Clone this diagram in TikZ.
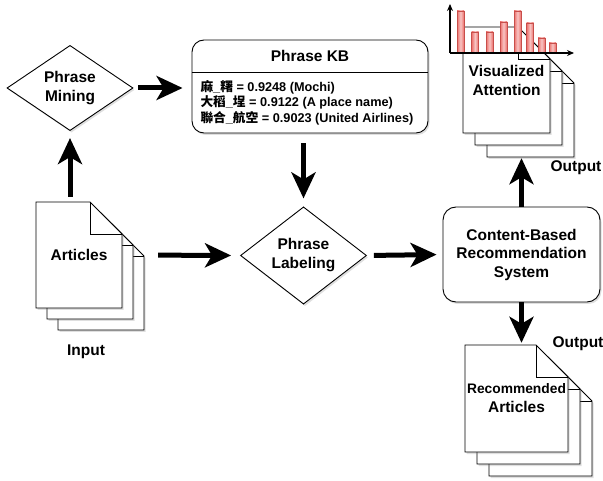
\documentclass[tikz,border=0pt]{standalone}
\usepackage{fontspec}
\setmainfont{Liberation Sans}
\newfontfamily\cjk{Noto Sans CJK TC}
\usetikzlibrary{arrows.meta, shapes.geometric, shadows}

\definecolor{barfill}{RGB}{236,110,106}
\definecolor{barline}{RGB}{200,78,74}

\tikzset{
	softshadow/.style={drop shadow={opacity=0.25, shadow xshift=1.5pt, shadow yshift=-2pt}},
	decision/.style={diamond, draw, fill=white, softshadow, line width=0.9pt, minimum width=126pt, minimum height=76pt, inner sep=0pt, align=center, font=\bfseries\fontsize{15.5}{19}\selectfont},
	roundbox/.style={rectangle, rounded corners=13pt, draw, fill=white, softshadow, line width=0.9pt, align=center, font=\bfseries\fontsize{15.5}{18.5}\selectfont},
	page/.style={draw, fill=white, softshadow, line width=0.9pt},
	doclabel/.style={align=center, inner sep=0pt, font=\bfseries\fontsize{15.5}{19}\selectfont},
	tag/.style={font=\bfseries\fontsize{15.5}{19}\selectfont},
	flow/.style={line width=5pt, -{Stealth[length=26pt, width=24pt, inset=7pt]}},
	axis/.style={line width=1.3pt, -{Stealth[length=7pt, width=6pt]}},
	bar/.style={draw=barline, line width=0.8pt, left color=barfill, right color=barfill, middle color=barfill!40}
}

% stack of three pages: name, x, y, width, height, offset, label
\newcommand{\docstack}[7]{%
	\foreach \off in {2,1,0} {
		\draw [page] (#2+\off*#6, #3+\off*#6) -- ++(#4-32, 0) -- ++(32, 32) -- ++(0, #5-32) -- ++(-#4, 0) -- cycle;
		\draw [line width=0.9pt] (#2+\off*#6+#4-32, #3+\off*#6) -- ++(0, 32) -- ++(32, 0);
	}
	\node (#1) [doclabel, minimum width=#4pt, minimum height=#5pt] at (#2+#4/2, #3+#5/2) {#7};
}

\begin{document}
\begin{tikzpicture}[x=1pt, y=-1pt]
	\useasboundingbox (0,0) rectangle (603,481);

	% document stacks
	\docstack{articles}{36}{202}{86}{106}{11}{Articles}
	\docstack{vis}{463}{27}{87}{106}{12}{Visualized\\Attention}
	\docstack{rec}{465}{345}{103}{107}{12}{\fontsize{13.8}{17}\selectfont Recommended\\Articles}

	% attention chart
	\foreach \x/\h in {460.5/11, 475/32, 489.5/32, 503.5/22, 517.5/11, 530/23, 541.5/38, 552.5/43}
		\draw [bar] (\x-3.5,53) rectangle (\x+3.5,\h);
	\draw [axis] (450,53) -- (450,4);
	\draw [axis] (450,53) -- (574,53);

	% process nodes
	\node (mining) [decision] at (70,88) {Phrase\\Mining};
	\node (labeling) [decision] at (303.5,255.5) {Phrase\\Labeling};
	\node (cbrs) [roundbox, minimum width=157pt, minimum height=95pt] at (521.5,254.5) {Content-Based\\Recommendation\\System};

	% knowledge base
	\node (kb) [roundbox, rounded corners=12pt, minimum width=236pt, minimum height=93pt] at (310,86.5) {};
	\node (kbtitle) [tag] at (310,56) {Phrase KB};
	\draw [line width=0.9pt] (kb.west |- 0,72) -- (kb.east |- 0,72);
	\node (kbterms) [anchor=west, align=left, font=\bfseries\fontsize{12.7}{15.5}\selectfont] at (197,102.5)
		{{\cjk 麻}\_{\cjk 糬} = 0.9248 (Mochi)\\
		 {\cjk 大稻}\_{\cjk 埕} = 0.9122 (A place name)\\
		 {\cjk 聯合}\_{\cjk 航空} = 0.9023 (United Airlines)};

	% labels
	\node (input) [tag] at (86,352) {Input};
	\node (outtop) [tag] at (576,168) {Output};
	\node (outbottom) [tag] at (578,344) {Output};

	% arrows
	\draw [flow, shorten <=5pt, shorten >=7pt] (articles.north -| mining.south) -- (mining.south);
	\draw [flow, shorten <=5pt, shorten >=9pt] (mining.east) -- (mining.east -| kb.west);
	\draw [flow, shorten <=10pt, shorten >=8pt] (labeling.north |- kb.south) -- (labeling.north);
	\draw [flow, shorten <=36pt, shorten >=9pt] (articles.east) -- (labeling.west);
	\draw [flow, shorten <=7pt, shorten >=6pt] (labeling.east) -- (cbrs.west);
	\draw [flow, shorten >=25pt] (cbrs.north) -- (cbrs.north |- vis.south);
	\draw [flow, shorten >=2pt] (cbrs.south) -- (cbrs.south |- rec.north);
\end{tikzpicture}
\end{document}
